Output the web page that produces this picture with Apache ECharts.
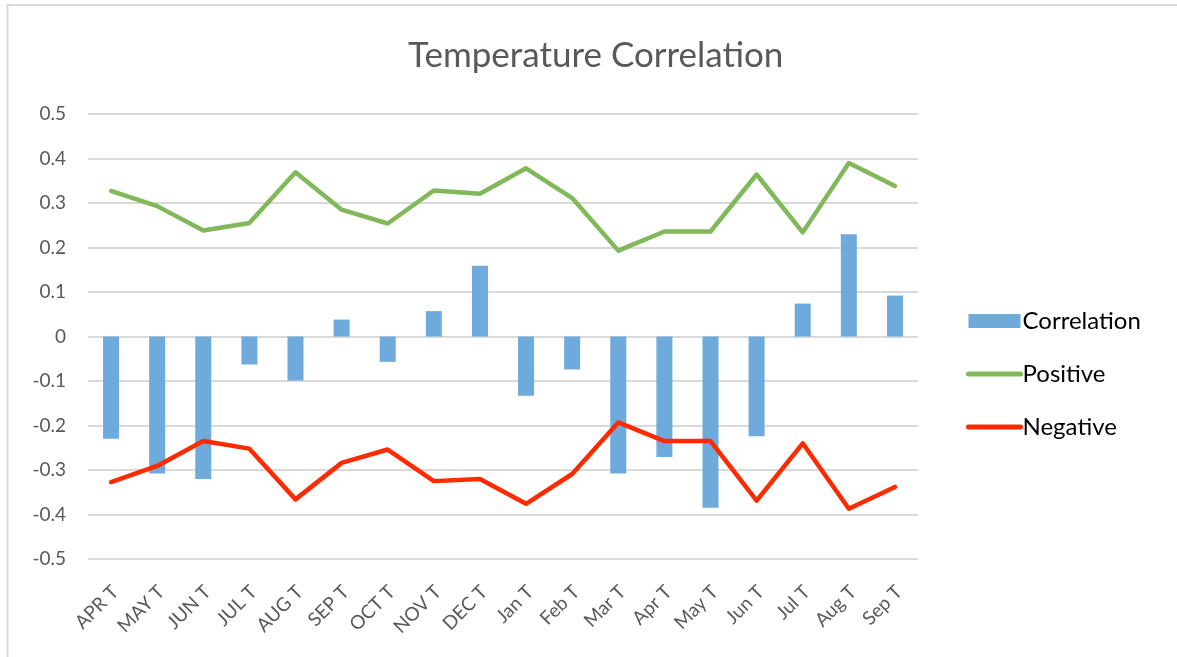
<!DOCTYPE html>
<html>
<head>
<meta charset="utf-8">
<script src="https://cdn.jsdelivr.net/npm/echarts@6/dist/echarts.min.js"></script>
<style>html,body{margin:0;padding:0;background:#fff;}#c{width:1177px;height:657px;}</style>
</head>
<body>
<div id="c"></div>
<script>
const categories = ['APR T','MAY T','JUN T','JUL T','AUG T','SEP T','OCT T','NOV T','DEC T','Jan T','Feb T','Mar T','Apr T','May T','Jun T','Jul T','Aug T','Sep T'];
const correlation = [-0.230,-0.308,-0.320,-0.063,-0.099,0.038,-0.057,0.057,0.159,-0.133,-0.074,-0.308,-0.271,-0.385,-0.224,0.074,0.230,0.092];
const positive = [0.327,0.293,0.238,0.255,0.369,0.285,0.254,0.328,0.321,0.378,0.311,0.193,0.236,0.236,0.364,0.234,0.390,0.338];
const negative = [-0.327,-0.291,-0.235,-0.252,-0.366,-0.284,-0.254,-0.325,-0.320,-0.376,-0.309,-0.193,-0.235,-0.235,-0.369,-0.240,-0.387,-0.338];
const yTicks = {min:-0.5, max:0.5, interval:0.1};

const FONT = 'Lato';
const GREEN = '#80b85a', RED = '#ff2a00', BLUE = '#6eaadc';
const chart = echarts.init(document.getElementById('c'), null, {renderer:'canvas'});
chart.setOption({
  animation:false,
  backgroundColor:'#ffffff',
  title:{
    text:'Temperature Correlation',
    left:403, top:33,
    textStyle:{fontFamily:FONT, fontSize:35, fontWeight:'normal', color:'#595959'}
  },
  graphic:[{
    type:'rect', silent:true,
    shape:{x:7.5, y:5, width:1300, height:800},
    style:{fill:'none', stroke:'#d9d9d9', lineWidth:2}
  }],
  legend:{
    orient:'vertical', left:961, top:304,
    itemWidth:52, itemHeight:14, itemGap:29,
    textStyle:{fontFamily:FONT, fontSize:24, color:'#000000', padding:[0,0,0,-3]},
    data:[
      {name:'Correlation', icon:'rect'},
      {name:'Positive', itemStyle:{opacity:0}, lineStyle:{width:5, cap:'round'}},
      {name:'Negative', itemStyle:{opacity:0}, lineStyle:{width:5, cap:'round'}}
    ]
  },
  grid:{left:88, right:259, top:114, bottom:98},
  xAxis:{
    type:'category', data:categories,
    axisLine:{show:false}, axisTick:{show:false},
    axisLabel:{rotate:45, margin:34, fontFamily:FONT, fontSize:19, color:'#595959', interval:0,
      padding:[0,-6,0,0]}
  },
  yAxis:{
    type:'value', min:yTicks.min, max:yTicks.max, interval:yTicks.interval,
    axisLine:{show:false}, axisTick:{show:false},
    axisLabel:{margin:22, fontFamily:FONT, fontSize:19, color:'#595959',
      formatter:function(v){return String(Math.round(v*10)/10);}},
    splitLine:{lineStyle:{color:'#d9d9d9', width:2}}
  },
  series:[
    {name:'Correlation', type:'bar', data:correlation, barWidth:16,
     itemStyle:{color:BLUE}},
    {name:'Positive', type:'line', data:positive, symbol:'none', smooth:false,
     lineStyle:{color:GREEN, width:4.5, cap:'round', join:'round'}, itemStyle:{color:GREEN}},
    {name:'Negative', type:'line', data:negative, symbol:'none', smooth:false,
     lineStyle:{color:RED, width:4.5, cap:'round', join:'round'}, itemStyle:{color:RED}}
  ]
});
</script>
</body>
</html>
